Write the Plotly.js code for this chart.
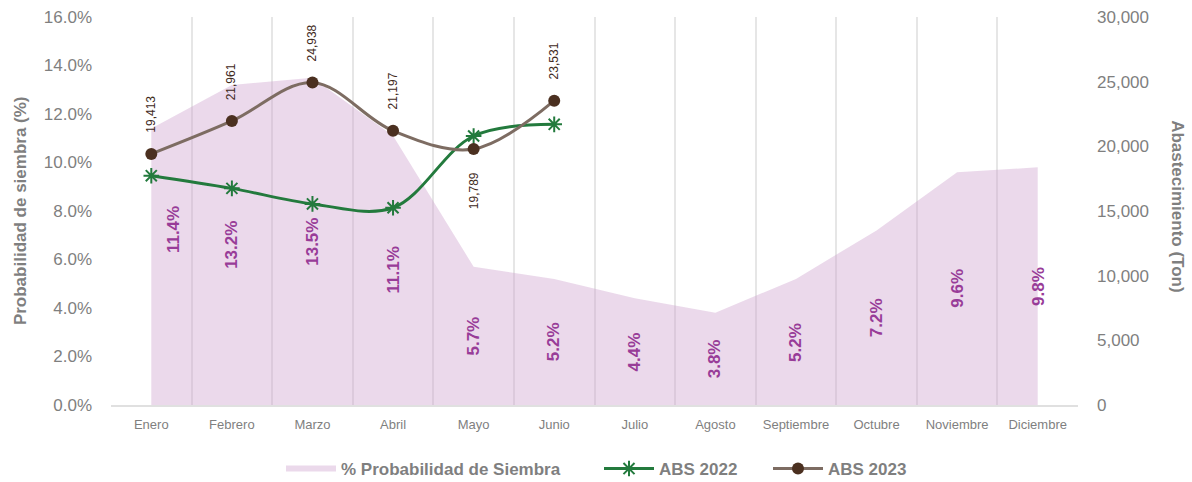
<!DOCTYPE html>
<html>
<head>
<meta charset="utf-8">
<script src="https://cdn.plot.ly/plotly-3.0.1.min.js"></script>
<style>html,body{margin:0;padding:0;background:#fff;}#chart{width:1192px;height:482px;}</style>
</head>
<body>
<div id="chart"></div>
<script>
const months = ["Enero","Febrero","Marzo","Abril","Mayo","Junio","Julio","Agosto","Septiembre","Octubre","Noviembre","Diciembre"];
const probSiembra = [0.114,0.132,0.135,0.111,0.057,0.052,0.044,0.038,0.052,0.072,0.096,0.098];
const abs2022Months = ["Enero","Febrero","Marzo","Abril","Mayo","Junio"];
const abs2022 = [17730,16750,15550,15250,20800,21700];
const abs2023Months = ["Enero","Febrero","Marzo","Abril","Mayo","Junio"];
const abs2023 = [19413,21961,24938,21197,19789,23531];

const FONT = "Liberation Sans, Arial, sans-serif";
const GRAY = "#7f7f7f";

const traces = [
  {
    x: months, y: probSiembra, type: "scatter", mode: "none",
    fill: "tozeroy", fillcolor: "rgba(205,160,205,0.4)",
    name: "% Probabilidad de Siembra", yaxis: "y", hoverinfo: "skip", legend: "legend"
  },
  {
    x: abs2022Months, y: abs2022, type: "scatter", mode: "lines+markers",
    name: "ABS 2022", yaxis: "y2", legend: "legend2",
    line: {color: "#237a3d", width: 3, shape: "spline", smoothing: 1},
    marker: {symbol: "asterisk-open", size: 13, color: "#237a3d", line: {color: "#237a3d", width: 2}}
  },
  {
    x: abs2023Months, y: abs2023, type: "scatter", mode: "lines+markers",
    name: "ABS 2023", yaxis: "y2", legend: "legend3",
    line: {color: "#7d6c62", width: 3, shape: "spline", smoothing: 1},
    marker: {symbol: "circle", size: 12, color: "#4b3020"}
  }
];

const annotations = [];
probSiembra.forEach((v, i) => {
  const first = i === 0;
  annotations.push({
    x: months[i], y: v / 2, xref: "x", yref: "y",
    text: "<b>" + (v * 100).toFixed(1) + "%</b>", showarrow: false, textangle: -90,
    xshift: first ? 22 : 0, yshift: first ? 37 : 0,
    font: {family: FONT, size: 17, color: "#983c98"}
  });
});
const labelBelow = {"Mayo": true};
abs2023.forEach((v, i) => {
  const below = !!labelBelow[abs2023Months[i]];
  annotations.push({
    x: abs2023Months[i], y: v, xref: "x", yref: "y2",
    text: v.toLocaleString("en-US"), showarrow: false, textangle: -90,
    yanchor: below ? "top" : "bottom", yshift: below ? -21 : 19,
    font: {family: FONT, size: 12, color: "#3f2a1c"}
  });
});
annotations.push({
  text: "<b>Probabilidad de siembra (%)</b>", xref: "paper", yref: "paper",
  x: -0.094, y: 0.5, xanchor: "center", yanchor: "middle", showarrow: false, textangle: -90,
  font: {family: FONT, size: 17, color: GRAY}
});
annotations.push({
  text: "<b>Abastecimiento (Ton)</b>", xref: "paper", yref: "paper",
  x: 1.1034, y: 0.51, xanchor: "center", yanchor: "middle", showarrow: false, textangle: 90,
  font: {family: FONT, size: 17, color: GRAY}
});

const legendFont = {family: FONT, size: 17, color: GRAY, weight: "bold"};
const legBase = {orientation: "h", xanchor: "left", yanchor: "middle", y: -0.165, font: legendFont, itemwidth: 50, bgcolor: "rgba(0,0,0,0)"};

const layout = {
  width: 1192, height: 482,
  margin: {l: 111, r: 114, t: 17, b: 77, autoexpand: false},
  paper_bgcolor: "#fff", plot_bgcolor: "#fff",
  showlegend: true,
  legend: Object.assign({}, legBase, {x: (281 - 111) / 967}),
  legend2: Object.assign({}, legBase, {x: (599 - 111) / 967}),
  legend3: Object.assign({}, legBase, {x: (768 - 111) / 967}),
  xaxis: {
    type: "category", range: [-0.5, 11.5], tickson: "boundaries",
    showgrid: true, gridcolor: "#e6e6e6", gridwidth: 2,
    showline: true, linecolor: "#e0e0e0", linewidth: 2,
    ticks: "", ticklabelstandoff: 6, tickangle: 0, automargin: false,
    tickfont: {family: FONT, size: 13, color: GRAY},
    zeroline: false, fixedrange: true
  },
  yaxis: {
    range: [0, 0.16], dtick: 0.02, tickformat: ".1%", automargin: false,
    showgrid: false, zeroline: false, showline: false, ticks: "",
    ticklabelstandoff: 18,
    tickfont: {family: FONT, size: 17, color: GRAY}
  },
  yaxis2: {
    range: [0, 30000], dtick: 5000, tickformat: ",", automargin: false,
    overlaying: "y", side: "right",
    showgrid: false, zeroline: false, showline: false, ticks: "",
    ticklabelstandoff: 18,
    tickfont: {family: FONT, size: 17, color: GRAY}
  },
  annotations: annotations
};

Plotly.newPlot("chart", traces, layout, {displayModeBar: false, staticPlot: true});
</script>
</body>
</html>
